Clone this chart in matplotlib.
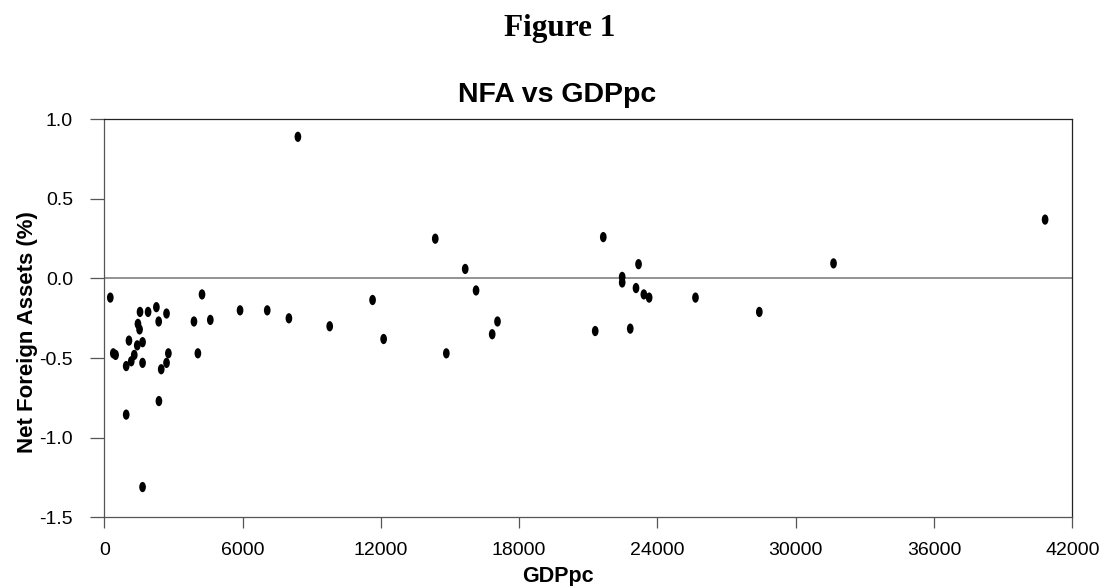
import matplotlib
matplotlib.use("Agg")
import matplotlib.pyplot as plt
import numpy as np
from matplotlib.path import Path
from matplotlib.ticker import FixedLocator, FormatStrFormatter

plt.rcParams['font.family'] = ['Liberation Sans', 'DejaVu Sans']
plt.rcParams['axes.unicode_minus'] = False

# Data
gdp_pc = [8400, 260, 4240, 1550, 1900, 2260, 2700, 2360, 1460, 1530,
          3890, 4600, 5890, 7070, 8010, 9780, 1070, 1660, 1430, 390,
          490, 1300, 1170, 950, 1660, 2780, 2700, 2470, 4060, 2370,
          950, 1660, 11640, 12120, 14360, 14840, 15660, 16130, 17060, 16830,
          21300, 21650, 22470, 22470, 23180, 23070, 23410, 23640, 22820, 25650,
          40820, 31640, 28420]
nfa = [0.89, -0.12, -0.10, -0.21, -0.21, -0.18, -0.22, -0.27, -0.285, -0.32,
       -0.27, -0.26, -0.20, -0.20, -0.25, -0.30, -0.39, -0.40, -0.42, -0.47,
       -0.48, -0.48, -0.52, -0.55, -0.53, -0.47, -0.53, -0.57, -0.47, -0.77,
       -0.855, -1.31, -0.135, -0.38, 0.25, -0.47, 0.06, -0.075, -0.27, -0.35,
       -0.33, 0.26, 0.01, -0.025, 0.09, -0.06, -0.10, -0.12, -0.315, -0.12,
       0.37, 0.095, -0.21]

x_ticks = [0, 6000, 12000, 18000, 24000, 30000, 36000, 42000]
y_ticks = [-1.5, -1.0, -0.5, 0.0, 0.5, 1.0]

W, H = 1100, 586
fig = plt.figure(figsize=(W / 100, H / 100), dpi=100)
ax = fig.add_axes([104.3 / W, 1 - 517.3 / H, 968 / W, 398 / H])

# elliptical marker (taller than wide)
circ = Path.unit_circle()
verts = circ.vertices.copy()
verts[:, 0] *= 0.65
ell = Path(verts, circ.codes)

ax.axhline(0, color='#808080', lw=1.2, zorder=1)
ax.scatter(gdp_pc, nfa, marker=ell, s=7.4 ** 2, c='black', edgecolors='none', zorder=3)

ax.set_xlim(0, 42000)
ax.set_ylim(-1.5, 1.0)
ax.xaxis.set_major_locator(FixedLocator(x_ticks))
ax.yaxis.set_major_locator(FixedLocator(y_ticks))
ax.yaxis.set_major_formatter(FormatStrFormatter('%.1f'))
ax.set_xticklabels([str(t) for t in x_ticks])

for s in ax.spines.values():
    s.set_linewidth(0.9)
    s.set_color('#222222')
ax.spines['left'].set_color('#555555')
ax.spines['bottom'].set_color('#555555')

ax.tick_params(axis='x', direction='out', length=8, width=0.9, color='#555555',
               labelsize=14, pad=10)
ax.tick_params(axis='y', direction='out', length=10, width=0.9, color='#555555',
               labelsize=14, pad=12.5)

fig.text(560 / W, 1 - 36 / H, 'Figure 1', ha='center', va='baseline',
         fontsize=22.5, fontweight='bold', family=['Liberation Serif', 'DejaVu Serif'])
fig.text(557 / W, 1 - 101.7 / H, 'NFA vs GDPpc', ha='center', va='baseline',
         fontsize=20.5, fontweight='bold')
fig.text(557.5 / W, 1 - 582 / H, 'GDPpc', ha='center', va='baseline',
         fontsize=15.5, fontweight='bold')
fig.text(28 / W, 1 - 332 / H, 'Net Foreign Assets (%)', ha='center', va='center',
         rotation=90, fontsize=16, fontweight='bold')

fig.savefig('out.png', dpi=100)
